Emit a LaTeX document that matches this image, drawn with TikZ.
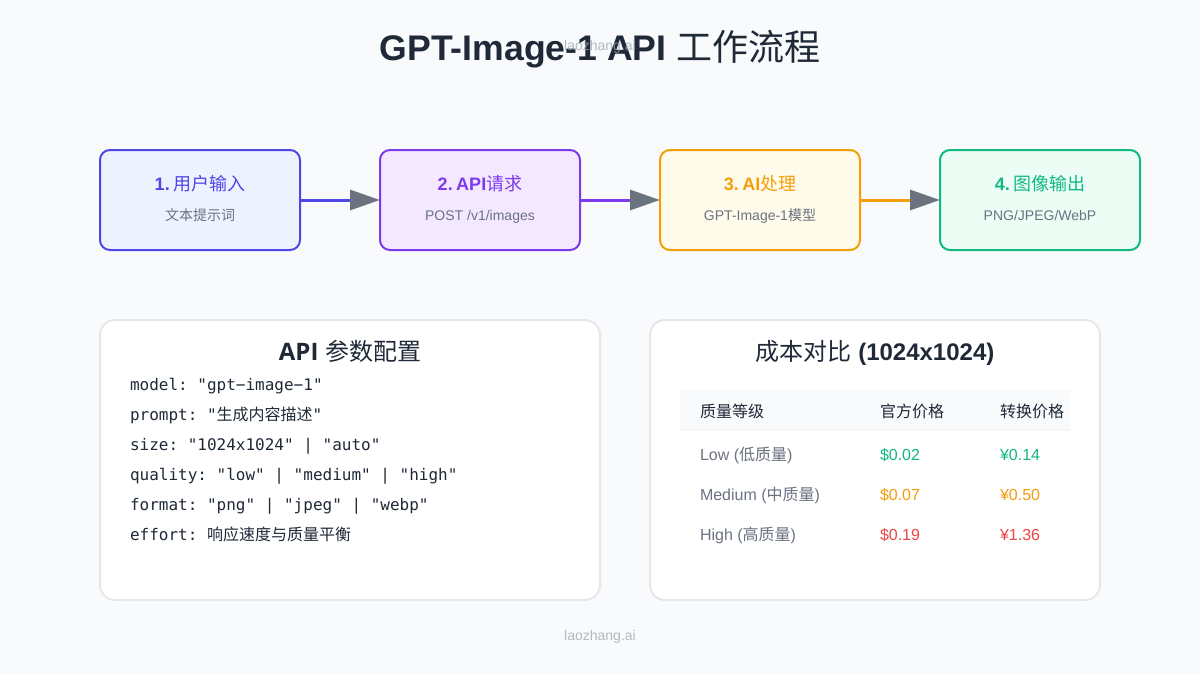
\documentclass[tikz,border=0pt]{standalone}
\usepackage{fontspec}
\usetikzlibrary{arrows.meta}
\setmainfont{Liberation Sans}
\newfontfamily\cjk{Noto Sans CJK SC}
\newfontfamily\monof{DejaVu Sans Mono}
\newfontfamily\cardf{Open Sans}
\frenchspacing
\definecolor{bgc}{HTML}{F9FAFB}
\definecolor{ink}{HTML}{1F2937}
\definecolor{mut}{HTML}{6B7280}
\definecolor{arrowc}{HTML}{6B7280}
\definecolor{cardb}{HTML}{E5E7EB}
\definecolor{rowb}{HTML}{F3F4F6}
\definecolor{wm}{HTML}{9CA3AF}
\definecolor{cA}{HTML}{4F46E5}\definecolor{fA}{HTML}{EEF2FF}
\definecolor{cB}{HTML}{7C3AED}\definecolor{fB}{HTML}{F3E8FF}
\definecolor{cC}{HTML}{F59E0B}\definecolor{fC}{HTML}{FFFBEB}
\definecolor{cD}{HTML}{10B981}\definecolor{fD}{HTML}{ECFDF5}
\definecolor{cR}{HTML}{EF4444}
\tikzset{
  stepbox/.style={draw=#1,line width=2pt,rounded corners=10pt,minimum width=200pt,minimum height=100pt,outer sep=0pt,inner sep=0pt},
  flow/.style={line width=3pt,draw=#1,-{Triangle[length=30pt,width=20pt,color=arrowc]}},
  cardbox/.style={draw=cardb,fill=white,line width=2pt,rounded corners=15pt,minimum height=280pt,outer sep=0pt,inner sep=0pt},
  txt/.style={inner sep=0pt,outer sep=0pt,anchor=base},
  ltxt/.style={inner sep=0pt,outer sep=0pt,anchor=base west},
  steptitle/.style={txt,font=\fontsize{18}{18}\selectfont,text=#1},
  stepsub/.style={txt,font=\fontsize{14}{14}\selectfont,text=mut},
  code/.style={ltxt,font=\monof\fontsize{16}{16}\selectfont,text=ink},
  cell/.style={ltxt,font=\fontsize{16}{16}\selectfont,text=#1},
  wmark/.style={txt,font=\fontsize{14}{14}\selectfont,text=wm,text opacity=0.75},
}
\begin{document}
\begin{tikzpicture}[x=1pt,y=-1pt]
\useasboundingbox (0,0) rectangle (1200,675);
\fill[bgc] (0,0) rectangle (1200,675);
\node[txt,font=\fontsize{36}{36}\selectfont,text=ink] (title) at (600,60) {{\fontsize{35.6}{36}\selectfont\textbf{GPT-Image-1 API}} {\cjk 工作流程}};
\node[wmark] (wmtop) at (600,50) {laozhang.ai};

\node[stepbox=cA,fill=fA] (s1) at (200,200) {};
\node[stepbox=cB,fill=fB] (s2) at (480,200) {};
\node[stepbox=cC,fill=fC] (s3) at (760,200) {};
\node[stepbox=cD,fill=fD] (s4) at (1040,200) {};
\draw[flow=cA] (s1.east) -- (s2.west);
\draw[flow=cB] (s2.east) -- (s3.west);
\draw[flow=cC] (s3.east) -- (s4.west);

\node[steptitle=cA] (t1) at (200,190) {\textbf{1.}\kern-1.5pt{} {\cjk 用户输入}};
\node[stepsub] (u1) at (200,220) {\cjk 文本提示词};
\node[steptitle=cB] (t2) at (480,190) {\textbf{2.\kern-1.5pt{} API}{\cjk 请求}};
\node[stepsub] (u2) at (480,220) {POST /v1/images};
\node[steptitle=cC] (t3) at (760,190) {\textbf{3.\kern-1.5pt{} AI}{\cjk 处理}};
\node[stepsub] (u3) at (760,220) {GPT-Image-1{\cjk 模型}};
\node[steptitle=cD] (t4) at (1040,190) {\textbf{4.}\kern-1.5pt{} {\cjk 图像输出}};
\node[stepsub] (u4) at (1040,220) {PNG/JPEG/WebP};

\node[cardbox,minimum width=500pt] (c1) at (350,460) {};
\node[cardbox,minimum width=450pt] (c2) at (875,460) {};

\node[txt,font=\fontsize{24}{24}\selectfont,text=ink] (c1t) at (350,360) {{\cardf\bfseries API} {\cjk 参数配置}};
\node[code] (p1) at (130,390) {model: "gpt−image−1"};
\node[code] (p2) at (130,420) {prompt: "{\cjk\fontsize{16}{16}\selectfont 生成内容描述}"};
\node[code] (p3) at (130,450) {size: "1024x1024" | "auto"};
\node[code] (p4) at (130,480) {quality: "low" | "medium" | "high"};
\node[code] (p5) at (130,510) {format: "png" | "jpeg" | "webp"};
\node[code] (p6) at (130,540) {effort: {\cjk 响应速度与质量平衡}};

\node[txt,font=\fontsize{24}{24}\selectfont,text=ink] (c2t) at (875,360) {{\cjk 成本对比} \textbf{(1024x1024)}};
\fill[bgc] (680,390) rectangle (1070,430);
\draw[rowb,line width=2pt] (680,430) -- (1070,430);
\node[cell=ink] (h1) at (700,417) {\cjk 质量等级};
\node[cell=ink] (h2) at (880,417) {\cjk 官方价格};
\node[cell=ink] (h3) at (1000,417) {\cjk 转换价格};
\node[cell=mut] (r1) at (700,460) {Low ({\cjk 低质量})};
\node[cell=cD] (r1a) at (880,460) {\$0.02};
\node[cell=cD] (r1b) at (1000,460) {¥0.14};
\node[cell=mut] (r2) at (700,500) {Medium ({\cjk 中质量})};
\node[cell=cC] (r2a) at (880,500) {\$0.07};
\node[cell=cC] (r2b) at (1000,500) {¥0.50};
\node[cell=mut] (r3) at (700,540) {High ({\cjk 高质量})};
\node[cell=cR] (r3a) at (880,540) {\$0.19};
\node[cell=cR] (r3b) at (1000,540) {¥1.36};

\node[wmark] (wmbot) at (600,640) {laozhang.ai};
\end{tikzpicture}
\end{document}
